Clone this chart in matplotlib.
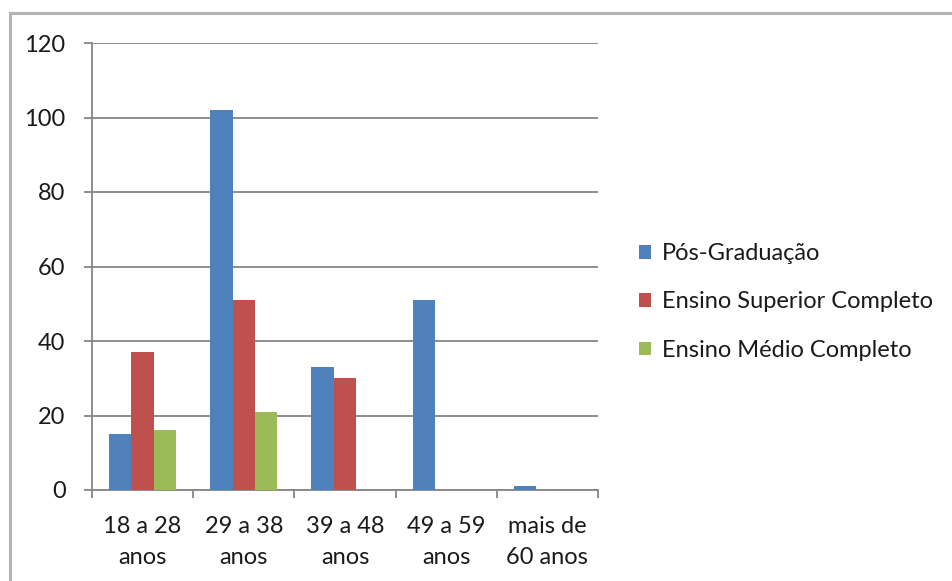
import numpy as np
import matplotlib.pyplot as plt
from matplotlib.patches import Rectangle

plt.rcParams['font.family'] = ['Lato', 'DejaVu Sans']

faixas = ['18 a 28\nanos', '29 a 38\nanos', '39 a 48\nanos', '49 a 59\nanos', 'mais de\n60 anos']
pos_grad = [15, 102, 33, 51, 1]
superior = [37, 51, 30, 0, 0]
medio = [16, 21, 0, 0, 0]
series = ['Pós-Graduação', 'Ensino Superior Completo', 'Ensino Médio Completo']
cores = ['#4F81BD', '#C0504D', '#9BBB59']

fig = plt.figure(figsize=(9.52, 5.81), dpi=100)
ax = fig.add_axes([92/952, 1 - 490/581, 506/952, 447/581])

x = np.arange(len(faixas))
w = 0.222
for i, (vals, nome, cor) in enumerate(zip([pos_grad, superior, medio], series, cores)):
    ax.bar(x + (i - 1) * w, vals, w, color=cor, label=nome, zorder=3)

ax.set_xlim(-0.5, len(faixas) - 0.5)
ax.set_ylim(0, 120)
ax.set_yticks(range(0, 121, 20))
ax.yaxis.grid(True, color='#868686', linewidth=1.3, zorder=0)
ax.set_xticks(np.arange(-0.5, len(faixas), 1))
ax.set_xticklabels([])
ax.set_xticks(x, minor=True)
ax.set_xticklabels(faixas, minor=True, fontsize=17, linespacing=1.55, color='#1a1a1a')
ax.tick_params(axis='x', which='minor', length=0, pad=19)
ax.tick_params(axis='x', which='major', length=5.5, color='#868686', width=1.3)
ax.tick_params(axis='y', length=6, color='#868686', width=1.3, labelsize=17,
               pad=13, labelcolor='#1a1a1a')
for s in ['top', 'right']:
    ax.spines[s].set_visible(False)
for s in ['left', 'bottom']:
    ax.spines[s].set_color('#868686')
    ax.spines[s].set_linewidth(1.3)

leg = fig.legend(loc='center left', bbox_to_anchor=(618/952, 1 - 302/581), frameon=False,
                 fontsize=17, handlelength=0.5, handleheight=0.5, handletextpad=0.45,
                 labelspacing=1.15)
for t in leg.get_texts():
    t.set_color('#1a1a1a')

# moldura do gráfico
fig.patches.append(Rectangle((10/952, -0.2), 1.2, 1.2 - 13/581, transform=fig.transFigure,
                             fill=False, edgecolor='#B4B4B4', linewidth=2.2))

fig.savefig('out.png', dpi=100)
